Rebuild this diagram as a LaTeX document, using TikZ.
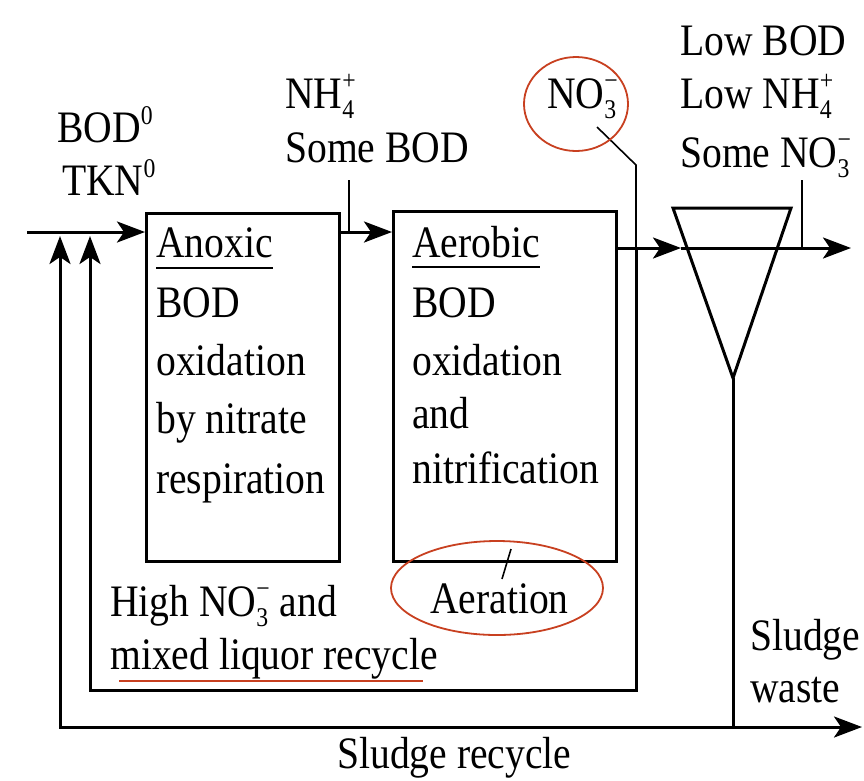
\documentclass[tikz,border=0pt]{standalone}
\usepackage{fontspec}
\setmainfont{Liberation Serif}[FakeStretch=0.88]
\usetikzlibrary{arrows.meta}
\definecolor{markred}{RGB}{200,64,32}
\newcommand{\smallfnt}{\fontsize{27}{27}\selectfont}
\newcommand{\ionsub}[2]{\rlap{\raisebox{-0.24em}{\smallfnt #1}}\raisebox{0.42em}{\smallfnt #2}}
\newcommand{\zsup}[1]{\raisebox{0.4em}{\smallfnt #1}}
\begin{document}
\begin{tikzpicture}[x=1pt,y=-1pt,
  lbl/.style={anchor=base west,inner sep=0pt,font=\fontsize{45}{54}\selectfont},
  flow/.style={line width=3pt},
  arr/.style={line width=3pt,-{Stealth[length=28pt,width=21pt,inset=7pt]}},
  thinline/.style={line width=1.6pt},
  tank/.style={draw,line width=3pt,inner sep=0pt,anchor=north west},
  redmark/.style={draw=markred,line width=1.8pt}]
\useasboundingbox[fill=white] (0,0) rectangle (864,780);

% tanks
\node[tank,minimum width=193pt,minimum height=348pt] (anoxic) at (145,212) {};
\node[tank,minimum width=223pt,minimum height=350pt] (aerobic) at (392,210) {};

% clarifier
\coordinate (cla) at (673,208);
\coordinate (clb) at (791,208);
\coordinate (apex) at (733,378);
\draw[line width=3pt,line join=miter] (apex) -- (cla) -- (clb) -- cycle;

% main flow
\coordinate (in) at (27,232);
\draw[arr] (in) -- (anoxic.west |- in);
\draw[arr] (anoxic.east |- in) -- (aerobic.west |- in);
\coordinate (o1) at (615,248);
\coordinate (clin) at (681,248);
\coordinate (eff) at (851,248);
\draw[arr] (aerobic.east |- o1) -- (clin);
\draw[arr] (clin) -- (eff);

% ticks
\coordinate (t1) at (349,180);
\draw[thinline] (t1) -- (t1 |- in);
\coordinate (t2) at (802,180);
\draw[thinline] (t2) -- (t2 |- eff);

% nitrate leader and mixed liquor recycle
\coordinate (nl) at (597,127);
\coordinate (rc) at (636,165);
\draw[thinline] (nl) -- (rc) -- (rc |- o1);
\coordinate (mlr) at (636,690);
\coordinate (mll) at (90,690);
\coordinate (mlt) at (90,236);
\draw[arr,line join=miter] (rc |- o1) -- (mlr) -- (mll) -- (mlt);

% sludge recycle and waste
\coordinate (sr) at (60,727);
\coordinate (srt) at (60,236);
\coordinate (sw) at (862,727);
\draw[arr,line join=miter] (apex) -- (apex |- sr) -- (sr) -- (srt);
\draw[arr] (apex |- sr) -- (sw);

% aeration tick
\coordinate (ae1) at (511,549);
\coordinate (ae2) at (502,579);
\draw[thinline] (ae1) -- (ae2);

% labels
\node[lbl] (bod0) at (57,142) {BOD\zsup{0}};
\node[lbl] (tkn0) at (62,195) {TKN\zsup{0}};
\node[lbl] (nh4) at (285,108) {NH\ionsub{4}{+}};
\node[lbl] (somebod) at (285,162) {Some BOD};
\node[lbl] (no3) at (547,108) {NO\ionsub{3}{−}};
\node[lbl] (lowbod) at (680,55) {Low BOD};
\node[lbl] (lownh) at (680,108) {Low NH\ionsub{4}{+}};
\node[lbl] (someno) at (680,167) {Some NO\ionsub{3}{−}};

\node[lbl] (an1) at (156,257) {Anoxic};
\node[lbl] (an2) at (156,317) {BOD};
\node[lbl] (an3) at (156,375) {oxidation};
\node[lbl] (an4) at (156,433) {by nitrate};
\node[lbl] (an5) at (156,493) {respiration};
\draw[line width=2pt] ([yshift=-11pt]an1.base west) -- ([yshift=-11pt]an1.base east);

\node[lbl] (ae1t) at (412,257) {Aerobic};
\node[lbl] (ae2t) at (412,317) {BOD};
\node[lbl] (ae3t) at (412,375) {oxidation};
\node[lbl] (ae4t) at (412,428) {and};
\node[lbl] (ae5t) at (412,483) {nitrification};
\draw[line width=2pt] ([yshift=-10pt]ae1t.base west) -- ([yshift=-10pt]ae1t.base east);

\node[lbl] (hi1) at (110,616) {High NO\ionsub{3}{−} and};
\node[lbl] (hi2) at (110,669) {mixed liquor recycle};
\node[lbl] (aer) at (430,613) {Aeration};
\node[lbl] (sl1) at (750,650) {Sludge};
\node[lbl] (sl2) at (750,702) {waste};
\node[lbl] (slr) at (337,768) {Sludge recycle};

% red annotations
\draw[redmark] (576,104) ellipse [x radius=52, y radius=47];
\draw[redmark] (497,588) ellipse [x radius=106, y radius=47];
\coordinate (ula) at (119,681);
\coordinate (ulb) at (423,681);
\draw[markred,line width=2.5pt] (ula) -- (ulb);
\end{tikzpicture}
\end{document}
